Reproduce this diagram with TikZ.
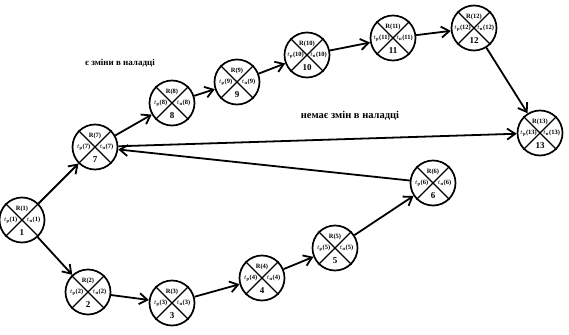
\documentclass[tikz,border=0pt]{standalone}
\usepackage{fontspec}
\setmainfont{Liberation Serif}
\usetikzlibrary{arrows.meta}
\begin{document}
\begin{tikzpicture}[x=1pt,y=-1pt,
  ev/.style={circle,draw,line width=1.7pt,minimum size=45pt,inner sep=0pt},
  arr/.style={line width=1.8pt,-{Straight Barb[length=8pt,width=11pt,line width=1.8pt]}},
  lab/.style={font=\bfseries\fontsize{6.5}{7}\selectfont,inner sep=0pt},
  num/.style={font=\bfseries\fontsize{9}{10}\selectfont,inner sep=0pt},
  ann/.style={font=\bfseries\fontsize{9}{10}\selectfont,inner sep=1pt}]
\useasboundingbox (0,0) rectangle (569,334);
\foreach \n/\x/\y in {1/22/220,2/88/292,3/172/303,4/262/278,5/335/248,6/433/183,
  7/95/147,8/172/103,9/237/82,10/307/55,11/393/38,12/474/28,13/540/133}{
  \node[ev] (n\n) at (\x,\y) {};
  \draw[line width=1.3pt] (n\n.north west) -- (n\n.south east) (n\n.north east) -- (n\n.south west);
  \node[lab] (r\n) at ([yshift=11.5pt]n\n.center) {R(\n)};
  \node[lab] (p\n) at ([xshift=-11.5pt]n\n.center) {$t$\textsubscript{р}(\n)};
  \node[lab] (q\n) at ([xshift=11.5pt]n\n.center) {$t$\textsubscript{п}(\n)};
  \node[num] (k\n) at ([yshift=-12.5pt]n\n.center) {\n};
}
\draw[arr] (n1) -- (n7);
\draw[arr] (n1) -- (n2);
\draw[arr] (n2) -- (n3);
\draw[arr] (n3) -- (n4);
\draw[arr] (n4) -- (n5);
\draw[arr] (n5) -- (n6);
\draw[arr] (n6) -- (n7);
\draw[arr] (n7) -- (n8);
\draw[arr] (n8) -- (n9);
\draw[arr] (n9) -- (n10);
\draw[arr] (n10) -- (n11);
\draw[arr] (n11) -- (n12);
\draw[arr] (n12) -- (n13);
\draw[arr] (n7) -- (n13);
\node[ann] (a1) at (120,63) {є зміни в наладці};
\node[ann,font=\bfseries\fontsize{10.5}{12}\selectfont] (a2) at (350,116) {немає змін в наладці};
\end{tikzpicture}
\end{document}
